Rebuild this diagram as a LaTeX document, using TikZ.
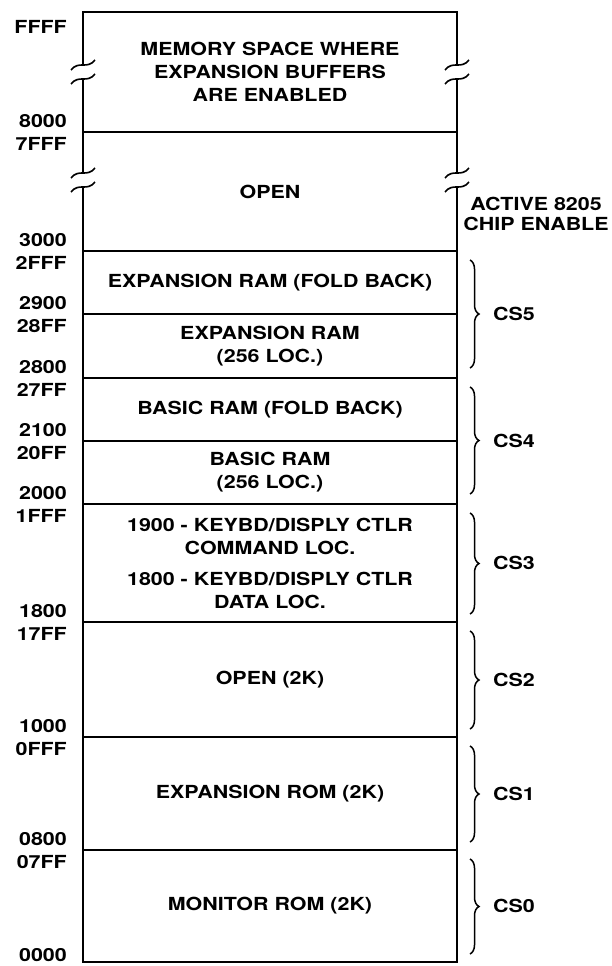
\documentclass[tikz,border=0pt]{standalone}
\usepackage{fontspec}
\setmainfont{TeX Gyre Heros}[FakeStretch=1.19]
\usepackage{tikz}
\usetikzlibrary{positioning, decorations.pathreplacing}

\begin{document}
\begin{tikzpicture}[x=1pt, y=-1pt, font=\fontsize{18}{23}\selectfont\bfseries]
  % Style definitions
  \tikzstyle{region} = [rectangle, draw=black, line width=1.6pt, outer sep=0pt, inner sep=0pt, minimum width=374pt, text width=360pt, align=center]
  \tikzstyle{addr} = [anchor=east, inner sep=0pt]
  \tikzstyle{chip} = [anchor=west, inner sep=0pt]
  \tikzstyle{csbrace} = [decorate, decoration={brace, amplitude=9pt}, line width=1.5pt]

  \useasboundingbox (0,0) rectangle (611,966);

  % Regions
  \node (bufmem) [region, minimum height=120pt] at (270,72) {MEMORY SPACE WHERE\\ EXPANSION BUFFERS\\ ARE ENABLED};
  \node (open) [region, minimum height=119pt, below=0pt of bufmem] {OPEN};
  \node (xramfb) [region, minimum height=63pt, below=0pt of open] {EXPANSION RAM (FOLD BACK)};
  \node (xram) [region, minimum height=64pt, below=0pt of xramfb] {EXPANSION RAM\\ (256 LOC.)};
  \node (bramfb) [region, minimum height=63pt, below=0pt of xram] {BASIC RAM (FOLD BACK)};
  \node (bram) [region, minimum height=63pt, below=0pt of bramfb] {BASIC RAM\\ (256 LOC.)};
  \node (kbd) [region, minimum height=118pt, below=0pt of bram] {1900 - KEYBD/DISPLY CTLR\\ COMMAND LOC.\\[8pt] 1800 - KEYBD/DISPLY CTLR\\ DATA LOC.};
  \node (open2k) [region, minimum height=115pt, below=0pt of kbd] {OPEN (2K)};
  \node (xrom) [region, minimum height=113pt, below=0pt of open2k] {EXPANSION ROM (2K)};
  \node (mrom) [region, minimum height=112pt, below=0pt of xrom] {MONITOR ROM (2K)};

  % Frame
  \draw[line width=2.8pt] (bufmem.north west) rectangle (mrom.south east);

  % Breaks
  \foreach \bx in {83,457} {
    \foreach \by in {72,180} {
      \fill[white] ({\bx-3},{\by-6}) rectangle ({\bx+3},{\by+6});
      \draw[line width=1.6pt] ({\bx-12},{\by-2}) .. controls ({\bx-4},{\by-12}) and ({\bx+4},{\by-2}) .. ({\bx+12},{\by-12});
      \draw[line width=1.6pt] ({\bx-12},{\by+12}) .. controls ({\bx-4},{\by+2}) and ({\bx+4},{\by+12}) .. ({\bx+12},{\by+2});
    }
  }

  % Addresses
  \node (aFFFF) [addr] at ([xshift=-16pt,yshift=-15pt]bufmem.north west) {FFFF};
  \node (a8000) [addr] at ([xshift=-16pt,yshift=11pt]bufmem.south west) {8000};
  \node (a7FFF) [addr] at ([xshift=-16pt,yshift=-12pt]open.north west) {7FFF};
  \node (a3000) [addr] at ([xshift=-16pt,yshift=11pt]open.south west) {3000};
  \node (a2FFF) [addr] at ([xshift=-16pt,yshift=-12pt]xramfb.north west) {2FFF};
  \node (a2900) [addr] at ([xshift=-16pt,yshift=11pt]xramfb.south west) {2900};
  \node (a28FF) [addr] at ([xshift=-16pt,yshift=-12pt]xram.north west) {28FF};
  \node (a2800) [addr] at ([xshift=-16pt,yshift=11pt]xram.south west) {2800};
  \node (a27FF) [addr] at ([xshift=-16pt,yshift=-12pt]bramfb.north west) {27FF};
  \node (a2100) [addr] at ([xshift=-16pt,yshift=11pt]bramfb.south west) {2100};
  \node (a20FF) [addr] at ([xshift=-16pt,yshift=-12pt]bram.north west) {20FF};
  \node (a2000) [addr] at ([xshift=-16pt,yshift=11pt]bram.south west) {2000};
  \node (a1FFF) [addr] at ([xshift=-16pt,yshift=-12pt]kbd.north west) {1FFF};
  \node (a1800) [addr] at ([xshift=-16pt,yshift=11pt]kbd.south west) {1800};
  \node (a17FF) [addr] at ([xshift=-16pt,yshift=-12pt]open2k.north west) {17FF};
  \node (a1000) [addr] at ([xshift=-16pt,yshift=11pt]open2k.south west) {1000};
  \node (a0FFF) [addr] at ([xshift=-16pt,yshift=-12pt]xrom.north west) {0FFF};
  \node (a0800) [addr] at ([xshift=-16pt,yshift=11pt]xrom.south west) {0800};
  \node (a07FF) [addr] at ([xshift=-16pt,yshift=-12pt]mrom.north west) {07FF};
  \node (a0000) [addr] at ([xshift=-16pt,yshift=7pt]mrom.south west) {0000};

  % Chip enables
  \node (enable) [align=center, inner sep=0pt, font=\fontsize{18}{20}\selectfont\bfseries] at ([xshift=79pt,yshift=37pt]open.south east) {ACTIVE 8205\\ CHIP ENABLE};
  \draw[csbrace] ([xshift=13pt,yshift=-9pt]xramfb.north east) -- ([xshift=13pt,yshift=10pt]xram.south east);
  \draw[csbrace] ([xshift=13pt,yshift=-9pt]bramfb.north east) -- ([xshift=13pt,yshift=10pt]bram.south east);
  \draw[csbrace] ([xshift=13pt,yshift=-9pt]kbd.north east) -- ([xshift=13pt,yshift=8pt]kbd.south east);
  \draw[csbrace] ([xshift=13pt,yshift=-9pt]open2k.north east) -- ([xshift=13pt,yshift=8pt]open2k.south east);
  \draw[csbrace] ([xshift=13pt,yshift=-9pt]xrom.north east) -- ([xshift=13pt,yshift=8pt]xrom.south east);
  \draw[csbrace] ([xshift=13pt,yshift=-9pt]mrom.north east) -- ([xshift=13pt,yshift=8pt]mrom.south east);
  \node (cs5) [chip] at ([xshift=36pt]xram.north east) {CS5};
  \node (cs4) [chip] at ([xshift=36pt]bram.north east) {CS4};
  \node (cs3) [chip] at ([xshift=36pt]kbd.east) {CS3};
  \node (cs2) [chip] at ([xshift=36pt]open2k.east) {CS2};
  \node (cs1) [chip] at ([xshift=36pt]xrom.east) {CS1};
  \node (cs0) [chip] at ([xshift=36pt]mrom.east) {CS0};
\end{tikzpicture}
\end{document}
